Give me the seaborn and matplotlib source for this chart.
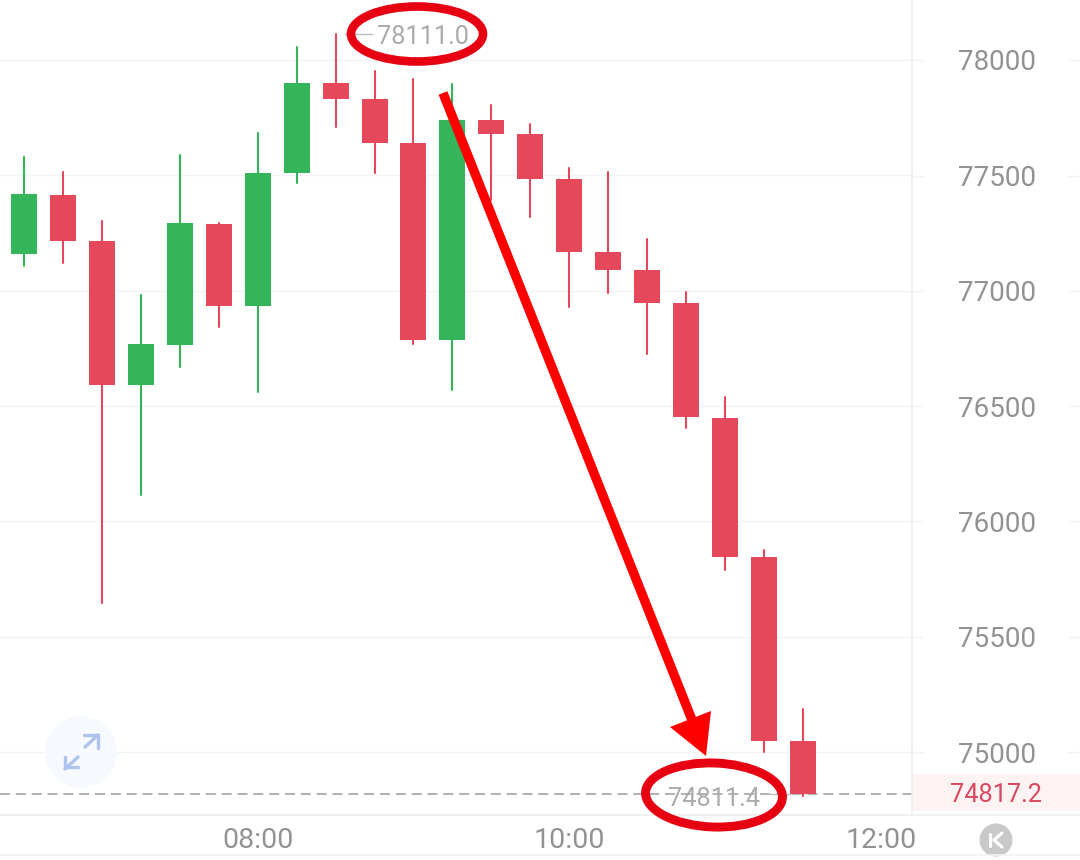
import matplotlib
matplotlib.use("Agg")
import matplotlib.pyplot as plt
from matplotlib.patches import Ellipse, Circle, Polygon, Rectangle
from matplotlib.lines import Line2D
from matplotlib.transforms import Affine2D
import pandas as pd
import seaborn as sns

slots = list(range(21))
opens = [77159, 77415, 77215, 76591, 76765, 77289, 76934, 77510, 77900, 77831, 77640,
         76786, 77740, 77679, 77484, 77168, 77090, 76947, 76448, 75846, 75048]
closes = [77419, 77215, 76591, 76769, 77293, 76934, 77510, 77900, 77831, 77640, 76786,
          77740, 77679, 77484, 77168, 77090, 76947, 76452, 75846, 75048, 74817]
highs = [77579, 77514, 77302, 76981, 77588, 77293, 77684, 78056, 78111, 77952, 77918,
         77896, 77805, 77723, 77532, 77514, 77224, 76994, 76539, 75876, 75187]
lows = [77107, 77120, 75646, 76114, 76669, 76843, 76561, 77467, 77710, 77510, 76769,
        76569, 77393, 77319, 76929, 76990, 76726, 76405, 75789, 75000, 74811.4]
price_ticks = [75000, 75500, 76000, 76500, 77000, 77500, 78000]
time_ticks = [6, 14, 22]
time_labels = ["08:00", "10:00", "12:00"]
last_price = 74817.2
high_label = "78111.0"
low_label = "74811.4"

RED = "#E5485A"
GREEN = "#34B55A"
GRID = "#F3F3F3"
TXT = "#929292"

sns.set_theme(style="white")
plt.rcParams["font.family"] = ["Roboto", "DejaVu Sans"]

fig = plt.figure(figsize=(10.8, 8.6), dpi=100, facecolor="white")
ax = fig.add_axes([0, 45 / 860, 912 / 1080, 815 / 860])
ax.set_facecolor("white")

df = pd.DataFrame({"slot": slots, "open": opens, "close": closes, "high": highs, "low": lows})
df["dir"] = ["up" if c > o else "down" for o, c in zip(opens, closes)]
wicks = pd.concat([
    df[["slot", "dir"]].assign(price=df["high"]),
    df[["slot", "dir"]].assign(price=df["low"]),
])
ax.set_axisbelow(True)
ax.grid(axis="y", color=GRID, lw=1.0)
ax.grid(axis="x", visible=False)
ax.axhline(last_price, color="#A3A3A3", lw=1.2, dashes=(6, 3.5), zorder=1.5)

sns.lineplot(data=wicks, x="slot", y="price", hue="dir", units="slot", estimator=None,
             palette={"up": GREEN, "down": RED}, lw=1.5, legend=False, ax=ax, zorder=2)
ax.bar(df["slot"], (df["close"] - df["open"]).abs(), bottom=df[["open", "close"]].min(axis=1),
       width=0.667, color=[GREEN if d == "up" else RED for d in df["dir"]], lw=0, zorder=3)

ax.set_xlim(-0.616, 22.80)
ax.set_ylim(74727, 78260)
ax.set_xlabel("")
ax.set_ylabel("")
ax.yaxis.tick_right()
ax.set_yticks(price_ticks)
ax.set_xticks(time_ticks)
ax.set_xticklabels(time_labels)
ax.tick_params(axis="y", length=0, pad=33, labelsize=20, labelcolor=TXT)
ax.tick_params(axis="x", length=0, pad=8.5, labelsize=20.5, labelcolor=TXT)
for lab in ax.get_xticklabels():
    lab.set_clip_on(False)
for s in ["top", "left"]:
    ax.spines[s].set_visible(False)
for s in ["right", "bottom"]:
    ax.spines[s].set_color("#EFEFEF")
    ax.spines[s].set_linewidth(1.2)

# overlay in reference pixel coordinates
px = Affine2D().scale(1 / 1080, -1 / 860).translate(0, 1) + fig.transFigure
def add(a):
    a.set_transform(px)
    a.set_clip_on(False)
    fig.add_artist(a)

add(Line2D([0, 1080], [855, 855], color="#F2F2F2", lw=1.2))
add(Line2D([0, 1080], [815, 815], color="#EFEFEF", lw=1.2))
for y in [60, 176, 291, 406, 521, 637, 752]:
    add(Line2D([912, 924], [y, y], color=GRID, lw=1.0))
    add(Line2D([1068, 1080], [y, y], color=GRID, lw=1.0))
add(Rectangle((912, 774), 168, 37, facecolor="#FDF3F3", edgecolor="none", zorder=0))
fig.text(996 / 1080, 1 - 795 / 860, f"{last_price}", color="#D9485F", fontsize=18.2,
         ha="center", va="center")

# price-extreme labels
add(Line2D([345, 372], [34, 34], color="#BDBDBD", lw=1.0))
fig.text(423 / 1080, 1 - 37 / 860, high_label, color="#ABABAB", fontsize=18.2, ha="center", va="center")
add(Line2D([767, 790], [794, 794], color="#BDBDBD", lw=1.0))
fig.text(714 / 1080, 1 - 799 / 860, low_label, color="#ABABAB", fontsize=18.2, ha="center", va="center")

# expand button
add(Circle((81, 752), 36, facecolor="#F6F9FE", edgecolor="none", zorder=1))
ic = "#AFC4EC"
for seg in [([85, 98], [747, 735]), ([84, 98], [735, 735]), ([98, 98], [735, 748]),
            ([78, 65], [757, 769]), ([65, 65], [757, 767]), ([65, 78], [767, 767])]:
    add(Line2D(seg[0], seg[1], color=ic, lw=2.4, solid_capstyle="round", zorder=4))

# K button
add(Circle((996, 840), 16.5, facecolor="#C9C9C9", edgecolor="none"))
for seg in [([990, 990], [834, 846]), ([1002, 994], [833, 840]), ([994, 1002], [840, 847])]:
    add(Line2D(seg[0], seg[1], color="white", lw=2.2))

# red hand-drawn marks
add(Ellipse((417, 34), 132, 55, facecolor="none", edgecolor="#E60012", lw=6.2, zorder=6))
add(Ellipse((714, 795), 137, 64, angle=2, facecolor="none", edgecolor="#E60012", lw=6.4, zorder=6))
add(Line2D([443, 694], [93, 725], color="#FF0000", lw=6.8, solid_capstyle="butt", zorder=7))
add(Polygon([(706, 756), (670, 727), (711, 711)], closed=True, facecolor="#FF0000",
            edgecolor="none", zorder=7))

fig.savefig("out.png", dpi=100, facecolor="white")
